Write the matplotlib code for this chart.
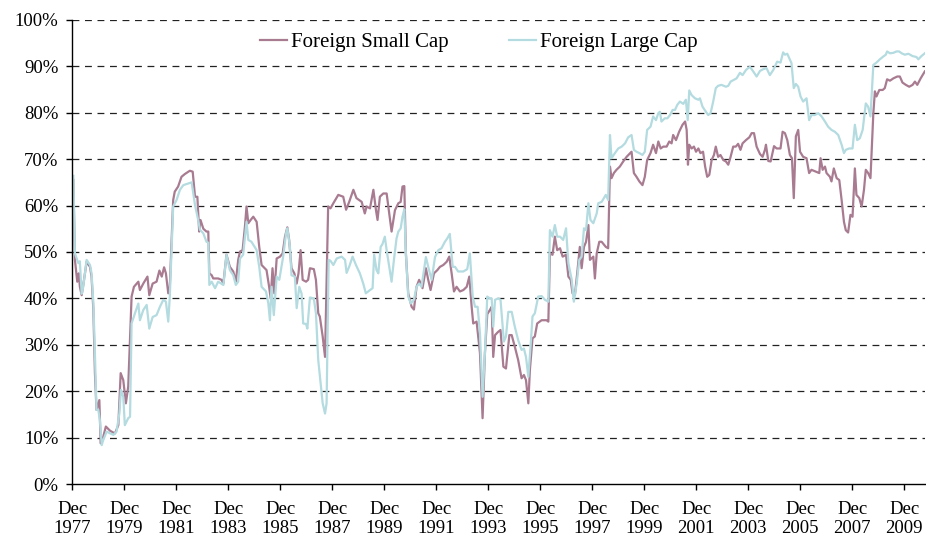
import matplotlib
matplotlib.use("Agg")
import matplotlib.pyplot as plt
import numpy as np

# Series (decimal years, percent)
small_dates = [
    1977.96, 1978.02, 1978.11, 1978.17, 1978.21, 1978.28, 1978.37, 1978.47, 1978.60, 1978.66,
    1978.73, 1978.79, 1978.85, 1978.96, 1979.01, 1979.11, 1979.21, 1979.37, 1979.56, 1979.69,
    1979.78, 1979.88, 1979.98, 1980.07, 1980.20, 1980.29, 1980.46, 1980.52, 1980.65, 1980.81,
    1980.88, 1981.01, 1981.16, 1981.27, 1981.36, 1981.45, 1981.52, 1981.61, 1981.67, 1981.80,
    1981.86, 1981.99, 1982.12, 1982.25, 1982.44, 1982.55, 1982.64, 1982.73, 1982.80, 1982.85,
    1982.96, 1983.08, 1983.15, 1983.19, 1983.28, 1983.34, 1983.53, 1983.66, 1983.73, 1983.85,
    1983.98, 1984.11, 1984.21, 1984.30, 1984.37, 1984.47, 1984.56, 1984.62, 1984.69, 1984.78,
    1984.88, 1985.01, 1985.11, 1985.20, 1985.39, 1985.49, 1985.55, 1985.62, 1985.69, 1985.78,
    1985.91, 1986.01, 1986.10, 1986.19, 1986.26, 1986.35, 1986.46, 1986.55, 1986.62, 1986.70,
    1986.78, 1986.91, 1986.99, 1987.06, 1987.21, 1987.29, 1987.38, 1987.44, 1987.55, 1987.64,
    1987.76, 1987.85, 1987.96, 1988.15, 1988.34, 1988.45, 1988.57, 1988.73, 1988.85, 1989.05,
    1989.17, 1989.24, 1989.37, 1989.50, 1989.60, 1989.66, 1989.75, 1989.88, 1990.01, 1990.11,
    1990.20, 1990.33, 1990.46, 1990.55, 1990.62, 1990.69, 1990.75, 1990.84, 1990.97, 1991.06,
    1991.16, 1991.26, 1991.39, 1991.52, 1991.61, 1991.70, 1991.83, 1991.96, 1992.06, 1992.19,
    1992.32, 1992.42, 1992.51, 1992.60, 1992.70, 1992.83, 1992.96, 1993.09, 1993.19, 1993.28,
    1993.34, 1993.47, 1993.60, 1993.70, 1993.79, 1993.88, 1993.98, 1994.05, 1994.11, 1994.18,
    1994.30, 1994.39, 1994.50, 1994.60, 1994.73, 1994.82, 1994.94, 1995.07, 1995.20, 1995.29,
    1995.37, 1995.46, 1995.52, 1995.62, 1995.71, 1995.80, 1995.97, 1996.16, 1996.23, 1996.29,
    1996.39, 1996.48, 1996.57, 1996.68, 1996.78, 1996.91, 1997.00, 1997.09, 1997.16, 1997.25,
    1997.34, 1997.44, 1997.51, 1997.60, 1997.68, 1997.77, 1997.83, 1997.96, 1998.02, 1998.09,
    1998.19, 1998.28, 1998.44, 1998.53, 1998.60, 1998.66, 1998.75, 1998.85, 1998.98, 1999.11,
    1999.24, 1999.43, 1999.52, 1999.62, 1999.73, 1999.85, 1999.94, 2000.03, 2000.16, 2000.26,
    2000.37, 2000.46, 2000.55, 2000.65, 2000.78, 2000.88, 2000.97, 2001.03, 2001.14, 2001.26,
    2001.39, 2001.49, 2001.55, 2001.60, 2001.65, 2001.74, 2001.83, 2001.91, 2002.00, 2002.08,
    2002.18, 2002.26, 2002.34, 2002.42, 2002.51, 2002.60, 2002.67, 2002.76, 2002.85, 2002.96,
    2003.06, 2003.15, 2003.24, 2003.34, 2003.44, 2003.53, 2003.62, 2003.70, 2003.83, 2003.96,
    2004.05, 2004.14, 2004.24, 2004.37, 2004.47, 2004.56, 2004.60, 2004.69, 2004.78, 2004.91,
    2005.01, 2005.16, 2005.24, 2005.33, 2005.42, 2005.52, 2005.60, 2005.67, 2005.75, 2005.84,
    2005.91, 2006.03, 2006.16, 2006.26, 2006.35, 2006.52, 2006.65, 2006.70, 2006.78, 2006.87,
    2006.93, 2007.06, 2007.12, 2007.21, 2007.32, 2007.42, 2007.51, 2007.60, 2007.67, 2007.76,
    2007.85, 2007.93, 2008.02, 2008.08, 2008.19, 2008.28, 2008.37, 2008.44, 2008.53, 2008.62,
    2008.73, 2008.79, 2008.85, 2008.96, 2009.09, 2009.17, 2009.26, 2009.37, 2009.50, 2009.65,
    2009.75, 2009.85, 2009.98, 2010.11, 2010.24, 2010.33, 2010.42, 2010.55, 2010.71,
]
small_vals = [
    65.5, 48.3, 43.6, 45.4, 42.5, 40.7, 44.0, 47.9, 46.8, 44.7,
    37.5, 23.9, 16.0, 18.1, 8.8, 10.2, 12.4, 11.5, 10.9, 12.7,
    23.9, 22.4, 17.4, 21.0, 40.4, 42.5, 43.6, 41.8, 43.2, 44.7,
    40.7, 43.2, 43.6, 46.0, 44.7, 46.7, 45.4, 41.1, 42.5, 61.2,
    63.0, 64.1, 66.2, 66.8, 67.5, 67.3, 61.9, 61.9, 54.4, 56.9,
    55.0, 54.4, 54.4, 45.4, 45.0, 44.3, 44.3, 44.0, 43.2, 49.4,
    46.8, 45.8, 43.6, 48.3, 50.1, 50.4, 55.5, 59.8, 56.2, 56.9,
    57.6, 56.5, 51.1, 47.2, 46.1, 42.5, 40.0, 46.5, 41.1, 48.6,
    49.0, 49.7, 53.3, 55.3, 52.6, 46.5, 45.4, 43.2, 45.4, 50.4,
    44.0, 43.6, 44.0, 46.5, 46.3, 44.0, 36.8, 36.1, 31.8, 27.4,
    59.8, 59.4, 60.5, 62.3, 61.9, 59.1, 60.8, 63.4, 61.6, 60.8,
    58.3, 59.8, 59.4, 63.4, 59.0, 56.9, 61.9, 62.6, 62.6, 58.3,
    54.4, 59.0, 60.5, 60.8, 64.1, 64.2, 49.7, 41.1, 38.2, 37.6,
    42.5, 44.0, 42.2, 46.5, 44.0, 41.8, 45.4, 46.1, 46.8, 47.2,
    47.9, 49.0, 45.4, 41.5, 42.5, 41.5, 41.8, 42.5, 44.7, 38.2,
    34.6, 35.0, 28.2, 14.2, 28.2, 36.6, 37.5, 38.2, 27.4, 32.1,
    32.8, 33.2, 25.3, 24.9, 32.1, 32.1, 29.6, 26.7, 22.8, 23.5,
    22.4, 17.4, 24.6, 31.4, 31.8, 34.6, 35.3, 35.3, 35.0, 49.7,
    49.4, 53.3, 50.4, 50.8, 49.0, 49.4, 44.7, 44.0, 41.1, 40.7,
    45.4, 51.1, 46.5, 51.1, 52.2, 55.8, 48.3, 49.0, 44.3, 49.7,
    52.2, 52.2, 51.1, 50.8, 68.4, 65.9, 67.0, 67.7, 68.4, 69.5,
    70.5, 71.6, 67.0, 66.2, 65.2, 64.4, 66.2, 69.8, 71.3, 73.1,
    71.3, 73.8, 72.3, 72.7, 72.7, 73.8, 73.4, 75.2, 74.1, 75.9,
    77.4, 78.1, 76.3, 68.8, 73.1, 72.3, 72.7, 71.6, 72.3, 71.3,
    71.6, 68.4, 66.2, 66.6, 69.8, 70.9, 72.7, 70.5, 70.9, 69.8,
    69.5, 68.8, 70.5, 72.7, 72.7, 73.3, 72.0, 73.4, 74.1, 74.7,
    75.6, 75.6, 72.7, 71.1, 70.5, 72.0, 73.1, 69.6, 69.5, 72.8,
    72.3, 72.3, 75.9, 75.6, 74.1, 70.9, 70.2, 61.6, 74.9, 76.3,
    71.6, 70.5, 70.2, 67.0, 67.7, 67.3, 67.0, 70.2, 67.7, 68.4,
    67.0, 66.2, 65.2, 68.0, 65.9, 65.5, 61.2, 56.5, 54.7, 54.2,
    58.0, 57.6, 68.0, 62.3, 61.6, 59.8, 63.4, 67.7, 67.0, 65.9,
    79.9, 84.6, 83.5, 84.9, 84.9, 85.3, 87.2, 86.9, 87.4, 87.8,
    87.8, 86.5, 86.0, 85.6, 86.0, 86.7, 86.0, 87.4, 88.9,
]

large_dates = [
    1977.96, 1978.02, 1978.15, 1978.21, 1978.28, 1978.34, 1978.47, 1978.60, 1978.66, 1978.73,
    1978.79, 1978.85, 1978.92, 1978.98, 1979.05, 1979.11, 1979.24, 1979.50, 1979.62, 1979.73,
    1979.79, 1979.88, 1979.94, 1980.07, 1980.14, 1980.20, 1980.33, 1980.46, 1980.52, 1980.65,
    1980.78, 1980.88, 1981.01, 1981.16, 1981.29, 1981.42, 1981.52, 1981.61, 1981.67, 1981.80,
    1981.93, 1982.06, 1982.19, 1982.51, 1982.64, 1982.76, 1982.83, 1982.96, 1983.08, 1983.15,
    1983.19, 1983.28, 1983.41, 1983.53, 1983.73, 1983.85, 1983.98, 1984.11, 1984.21, 1984.30,
    1984.37, 1984.49, 1984.62, 1984.69, 1984.81, 1985.01, 1985.11, 1985.20, 1985.37, 1985.46,
    1985.52, 1985.58, 1985.67, 1985.78, 1985.88, 1986.03, 1986.14, 1986.19, 1986.29, 1986.35,
    1986.48, 1986.55, 1986.65, 1986.74, 1986.80, 1986.91, 1986.96, 1987.06, 1987.21, 1987.29,
    1987.38, 1987.47, 1987.55, 1987.64, 1987.70, 1987.78, 1987.85, 1987.96, 1988.09, 1988.28,
    1988.41, 1988.47, 1988.58, 1988.70, 1988.83, 1988.98, 1989.11, 1989.21, 1989.37, 1989.47,
    1989.53, 1989.62, 1989.69, 1989.78, 1989.85, 1989.94, 1990.01, 1990.11, 1990.20, 1990.29,
    1990.39, 1990.46, 1990.55, 1990.62, 1990.69, 1990.75, 1990.84, 1990.94, 1991.06, 1991.16,
    1991.26, 1991.35, 1991.52, 1991.61, 1991.74, 1991.87, 1992.00, 1992.12, 1992.25, 1992.34,
    1992.44, 1992.55, 1992.64, 1992.76, 1992.96, 1993.11, 1993.21, 1993.32, 1993.41, 1993.51,
    1993.60, 1993.70, 1993.79, 1993.88, 1993.98, 1994.05, 1994.11, 1994.18, 1994.30, 1994.39,
    1994.52, 1994.60, 1994.69, 1994.82, 1994.94, 1995.07, 1995.20, 1995.29, 1995.37, 1995.46,
    1995.55, 1995.62, 1995.71, 1995.84, 1995.97, 1996.10, 1996.23, 1996.29, 1996.39, 1996.48,
    1996.57, 1996.68, 1996.80, 1996.91, 1997.00, 1997.13, 1997.21, 1997.32, 1997.42, 1997.51,
    1997.60, 1997.68, 1997.77, 1997.85, 1997.96, 1998.09, 1998.15, 1998.28, 1998.44, 1998.53,
    1998.60, 1998.66, 1998.79, 1998.92, 1999.05, 1999.18, 1999.30, 1999.43, 1999.52, 1999.62,
    1999.73, 1999.85, 1999.94, 2000.03, 2000.16, 2000.26, 2000.37, 2000.46, 2000.52, 2000.58,
    2000.71, 2000.81, 2000.91, 2001.01, 2001.10, 2001.19, 2001.29, 2001.42, 2001.52, 2001.59,
    2001.65, 2001.74, 2001.87, 2002.00, 2002.06, 2002.16, 2002.29, 2002.38, 2002.47, 2002.57,
    2002.67, 2002.76, 2002.89, 2003.06, 2003.15, 2003.24, 2003.37, 2003.47, 2003.60, 2003.70,
    2003.83, 2003.98, 2004.11, 2004.24, 2004.37, 2004.50, 2004.62, 2004.75, 2004.88, 2005.03,
    2005.16, 2005.26, 2005.33, 2005.42, 2005.58, 2005.67, 2005.75, 2005.84, 2005.93, 2006.03,
    2006.16, 2006.26, 2006.35, 2006.48, 2006.61, 2006.74, 2006.87, 2006.99, 2007.12, 2007.25,
    2007.38, 2007.51, 2007.60, 2007.67, 2007.80, 2007.93, 2008.02, 2008.11, 2008.21, 2008.32,
    2008.44, 2008.53, 2008.62, 2008.73, 2008.85, 2008.98, 2009.11, 2009.21, 2009.26, 2009.37,
    2009.50, 2009.62, 2009.72, 2009.82, 2009.94, 2010.08, 2010.24, 2010.39, 2010.46, 2010.58,
    2010.71,
]
large_vals = [
    66.4, 49.7, 47.6, 48.0, 41.0, 42.5, 48.3, 47.2, 45.4, 39.0,
    28.0, 16.0, 16.0, 13.8, 8.4, 9.5, 11.3, 10.6, 11.3, 15.2,
    20.3, 18.8, 12.7, 14.2, 14.5, 34.6, 36.8, 38.9, 35.3, 37.5,
    38.6, 33.5, 36.0, 36.4, 38.2, 39.7, 39.3, 35.0, 40.4, 59.8,
    61.2, 63.4, 64.4, 65.0, 60.1, 56.9, 54.8, 54.0, 52.2, 52.0,
    42.9, 43.6, 42.2, 43.6, 42.9, 49.4, 46.1, 45.0, 42.9, 43.6,
    48.6, 49.4, 56.5, 52.6, 52.2, 50.4, 46.8, 42.5, 41.5, 38.9,
    35.3, 42.5, 36.4, 44.7, 44.0, 49.0, 54.0, 55.1, 51.1, 45.0,
    44.7, 37.9, 42.5, 41.0, 34.6, 34.5, 33.5, 40.2, 40.0, 36.8,
    26.7, 21.7, 17.4, 15.2, 17.4, 48.3, 48.1, 47.2, 48.6, 49.0,
    48.3, 45.5, 47.0, 49.0, 47.2, 45.4, 43.2, 41.1, 41.8, 42.2,
    49.4, 46.1, 45.4, 51.1, 51.7, 53.3, 50.4, 46.8, 43.6, 48.3,
    52.9, 54.4, 55.1, 57.6, 59.2, 49.7, 40.4, 38.9, 39.7, 42.5,
    43.2, 42.5, 48.9, 46.8, 44.0, 48.9, 50.4, 50.8, 52.2, 52.9,
    53.9, 46.8, 46.8, 45.8, 45.8, 46.3, 49.7, 40.4, 38.2, 38.2,
    32.5, 18.8, 28.2, 40.4, 40.0, 40.0, 33.9, 39.7, 40.0, 39.7,
    30.7, 31.8, 37.1, 37.1, 33.9, 31.0, 28.9, 29.2, 27.4, 23.1,
    30.0, 36.1, 36.8, 40.4, 40.5, 39.7, 39.3, 54.7, 53.3, 55.8,
    53.3, 53.3, 52.6, 55.1, 47.6, 44.0, 39.3, 43.2, 48.3, 49.0,
    55.1, 54.7, 60.5, 56.9, 56.2, 58.3, 60.5, 60.8, 62.3, 61.2,
    75.2, 70.2, 71.3, 72.3, 72.7, 73.4, 74.7, 75.2, 72.0, 71.6,
    71.3, 70.9, 71.6, 76.3, 77.0, 79.2, 78.4, 79.9, 80.2, 78.1,
    78.8, 78.8, 79.5, 80.6, 80.6, 81.7, 82.4, 81.9, 82.8, 78.4,
    84.8, 83.8, 83.1, 82.8, 83.1, 81.3, 80.2, 79.5, 79.9, 82.4,
    85.3, 85.8, 86.0, 85.6, 85.8, 86.7, 87.1, 87.4, 88.6, 88.1,
    89.2, 89.9, 88.9, 87.8, 89.0, 89.4, 89.6, 88.1, 89.2, 91.0,
    90.8, 93.0, 92.5, 92.7, 90.7, 85.3, 86.2, 85.6, 83.5, 82.4,
    83.1, 78.4, 79.5, 79.5, 79.9, 79.2, 78.1, 77.0, 76.3, 75.9,
    75.2, 73.1, 71.3, 72.0, 72.3, 72.3, 77.4, 74.1, 74.5, 76.3,
    82.0, 81.3, 79.2, 90.3, 90.8, 91.5, 92.1, 92.5, 93.2, 92.8,
    92.9, 93.2, 93.2, 92.8, 92.5, 92.7, 92.2, 92.0, 91.5, 92.2,
    92.8,
]

tick_years = list(range(1977, 2010, 2))
tick_labels = ["Dec\n%d" % y for y in tick_years]
y_ticks = list(range(0, 101, 10))

plt.rcParams["font.family"] = ["Liberation Serif", "DejaVu Serif"]

fig = plt.figure(figsize=(9.26, 5.52), dpi=100)
ax = fig.add_axes([0.078, 0.123, 0.921, 0.841])

ax.plot(small_dates, small_vals, color="#a87b91", linewidth=1.6, label="Foreign Small Cap")
ax.plot(large_dates, large_vals, color="#b3dbe0", linewidth=1.6, label="Foreign Large Cap")

ax.set_xlim(1977 + 11 / 12, 2010.72)
ax.set_ylim(0, 100)
ax.set_xticks([y + 11 / 12 for y in tick_years])
ax.set_xticklabels(tick_labels)
ax.set_yticks(y_ticks)
ax.set_yticklabels(["%d%%" % v for v in y_ticks])

ax.tick_params(axis="x", direction="out", length=4, width=1, labelsize=13.5, pad=8)
ax.tick_params(axis="y", direction="out", length=4, width=1, labelsize=13.5, pad=6)

# dashed horizontal grid
for v in y_ticks[1:]:
    ax.axhline(v, color="#222222", linestyle=(0, (5.5, 4.5)), linewidth=0.9, zorder=0)

ax.spines["top"].set_visible(False)
ax.spines["right"].set_visible(False)
ax.spines["left"].set_linewidth(1)
ax.spines["bottom"].set_linewidth(1)

ax.legend(loc="center", bbox_to_anchor=(0.477, 0.952), ncol=2, frameon=False,
          fontsize=15, handlelength=1.3, handletextpad=0.2, columnspacing=2.9)

fig.savefig("out.png", dpi=100)
